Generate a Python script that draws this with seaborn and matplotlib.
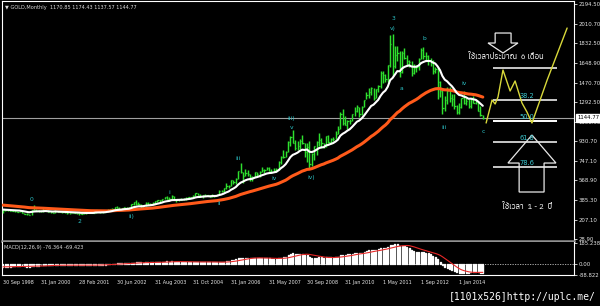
import numpy as np
import pandas as pd
import matplotlib
matplotlib.use("Agg")
import matplotlib.pyplot as plt
from matplotlib import font_manager
from matplotlib.patches import Polygon
import matplotlib.transforms as mtransforms
import seaborn as sns

# ---------------------------------------------------------------- data
# monthly closes before the visible window (used only to warm up the averages)
pre_close = [377, 381, 389, 376, 387, 388, 384, 385, 394, 389, 383, 383,
             375, 376, 392, 389, 385, 387, 383, 382, 384, 382, 387, 387,
             405, 400, 396, 392, 391, 382, 385, 387, 379, 379, 371, 369,
             345, 358, 348, 340, 345, 334, 326, 325, 332, 311, 296, 290,
             304, 297, 301, 310, 293, 296, 288, 273]

# visible monthly bars (one row per date-label interval)
high = [
    301, 301, 300, 296, 292, 292, 290, 291, 290, 268, 264, 259, 299, 339, 305, 292,
    292, 313, 300, 295, 287, 280, 294, 291, 284, 280, 277, 275, 272, 270, 275, 273,
    270, 268, 266, 296, 275, 272, 280, 295, 293, 285, 280, 289, 302, 304, 311, 328,
    330, 322, 317, 327, 324, 327, 349, 372, 390, 370, 352, 341, 373, 371, 364, 366,
    376, 391, 390, 400, 417, 427, 420, 431, 429, 396, 400, 410, 408, 415, 419, 420,
    431, 455, 457, 441, 437, 447, 438, 436, 443, 438, 448, 476, 478, 497, 541, 530,
    573, 574, 587, 654, 730, 644, 677, 664, 631, 609, 649, 648, 654, 690, 673, 692,
    692, 670, 686, 687, 744, 793, 848, 838, 934, 977, 1033, 945, 933, 951, 989, 915,
    913, 933, 825, 882, 935, 1006, 963, 918, 980, 990, 960, 967, 1025, 1070, 1195, 1227,
    1161, 1128, 1136, 1181, 1249, 1265, 1245, 1250, 1311, 1388, 1425, 1432, 1424, 1411, 1448, 1575,
    1577, 1553, 1632, 1912, 1921, 1804, 1803, 1764, 1764, 1791, 1720, 1676, 1668, 1641, 1628, 1693,
    1788, 1796, 1755, 1724, 1695, 1677, 1617, 1615, 1487, 1421, 1348, 1434, 1434, 1361, 1362, 1267,
    1280, 1332, 1392, 1331, 1315, 1332, 1345, 1323, 1287, 1256, 1174.43]
low = [
    273, 288, 288, 284, 284, 282, 278, 278, 266, 256, 252, 251, 253, 294, 288, 278,
    281, 282, 285, 276, 273, 269, 271, 275, 274, 270, 270, 263, 262, 264, 267, 262,
    254, 255, 255, 263, 265, 264, 264, 271, 278, 272, 272, 277, 282, 289, 298, 308,
    313, 297, 302, 310, 310, 313, 318, 345, 345, 340, 319, 320, 336, 342, 340, 345,
    351, 371, 367, 378, 393, 398, 391, 393, 384, 371, 382, 387, 390, 388, 401, 405,
    414, 426, 431, 417, 411, 425, 421, 414, 414, 418, 430, 432, 461, 466, 491, 500,
    515, 538, 538, 580, 636, 543, 606, 612, 561, 560, 600, 607, 604, 648, 635, 661,
    652, 640, 648, 642, 669, 722, 776, 780, 832, 888, 913, 853, 847, 860, 903, 786,
    735, 681, 700, 753, 800, 887, 866, 865, 880, 910, 904, 933, 952, 1000, 1039, 1075,
    1075, 1045, 1088, 1113, 1165, 1200, 1157, 1175, 1241, 1315, 1331, 1360, 1309, 1328, 1381, 1422,
    1462, 1478, 1480, 1610, 1535, 1604, 1671, 1523, 1563, 1689, 1627, 1613, 1527, 1552, 1564, 1589,
    1687, 1692, 1672, 1635, 1626, 1554, 1562, 1321, 1338, 1180, 1208, 1270, 1292, 1251, 1226, 1180,
    1182, 1238, 1277, 1268, 1240, 1240, 1281, 1273, 1206, 1161, 1137.57]
close = [
    294, 292, 294, 288, 287, 288, 280, 286, 268, 261, 255, 254, 299, 300, 291, 290,
    283, 293, 290, 278, 275, 272, 288, 276, 279, 277, 274, 264, 270, 268, 273, 266,
    267, 258, 264, 268, 271, 265, 273, 293, 279, 275, 277, 282, 297, 302, 309, 326,
    318, 305, 312, 324, 317, 319, 347, 368, 348, 350, 334, 336, 361, 346, 354, 360,
    375, 388, 386, 398, 416, 400, 396, 426, 388, 394, 395, 391, 400, 408, 416, 414,
    429, 452, 438, 422, 435, 429, 435, 417, 437, 429, 433, 473, 470, 495, 517, 513,
    569, 556, 583, 654, 643, 613, 633, 624, 599, 604, 646, 632, 650, 665, 663, 679,
    659, 650, 666, 673, 743, 789, 783, 834, 923, 972, 916, 865, 886, 930, 913, 833,
    880, 718, 814, 882, 927, 942, 916, 883, 979, 927, 954, 955, 1001, 1040, 1181, 1097,
    1081, 1117, 1113, 1180, 1213, 1244, 1181, 1247, 1307, 1359, 1386, 1421, 1332, 1410, 1439, 1556,
    1536, 1500, 1628, 1826, 1620, 1722, 1746, 1566, 1740, 1697, 1668, 1664, 1559, 1604, 1614, 1692,
    1772, 1719, 1713, 1675, 1663, 1579, 1597, 1472, 1393, 1234, 1313, 1396, 1327, 1323, 1253, 1202,
    1244, 1326, 1284, 1296, 1250, 1327, 1282, 1287, 1210, 1171, 1144.77]

date_tick_bars = [0, 16, 32, 48, 64, 80, 96, 112, 128, 144, 160, 176, 192]
date_tick_labels = ["30 Sep 1998", "31 Jan 2000", "28 Feb 2001", "30 Jun 2002",
                    "31 Aug 2003", "31 Oct 2004", "31 Jan 2006", "31 May 2007",
                    "30 Sep 2008", "31 Jan 2010", "1 May 2011", "1 Sep 2012",
                    "1 Jan 2014"]
price_ticks = [2194.50, 2010.70, 1832.50, 1648.90, 1470.70, 1292.50, 1106.90,
               930.70, 747.10, 568.90, 385.30, 207.10, 28.90]
last_price = 1144.77
macd_ticks = [185.238, 0.0, -88.822]
macd_tick_labels = ["185.238", "0.00", "-88.822"]

# Elliott-wave labels (bar index, price)
wave_text = ["0", "2", "ii)", "i", "ii", "iii", "iv", "iii)", "v", "iv)",
             "3", "v)", "a", "b", "iii", "iv", "c"]
wave_bar = [11.8, 32.0, 53.9, 69.9, 90.9, 98.9, 114.1, 121.3, 121.3, 129.7,
            164.2, 164.2, 167.6, 177.3, 185.7, 194.1, 202.1]
wave_price = [397, 186, 232, 462, 352, 775, 582, 1135, 1061, 600,
              2065, 1973, 1420, 1872, 1061, 1466, 1015]

# projected path (yellow zig-zag)
proj_bar = [203.4, 205.9, 207.2, 208.4, 210.5, 213.5, 215.6, 218.5, 220.6, 222.7, 229.1, 237.5]
proj_price = [1098, 1310, 1273, 1337, 1586, 1393, 1485, 1282, 1199, 1098, 1494, 1973]

# Fibonacci levels
fib_price = [1604.7, 1309.9, 1116.3, 922.8, 692.5]
fib_name = ["", "38.2", "50.0", "61.8", "78.6"]
fib_start, fib_end = 206.3, 233.3

thai_top = "ใช้เวลาประมาณ  6 เดือน"
thai_bottom = "ใช้เวลา  1 - 2  ปี"
header = "\u25bc GOLD,Monthly  1170.85 1174.43 1137.57 1144.77"
macd_header = "MACD(12,26,9) -76.364 -69.423"
watermark = "[1101x526]http://uplc.me/"

# ---------------------------------------------------------------- fonts
def find_thai_font():
    try:
        from fontTools.ttLib import TTFont
    except Exception:
        return None
    seen = set()
    cands = sorted(font_manager.fontManager.ttflist, key=lambda f: ("CJK" in f.name, f.name))
    for f in cands:
        if f.fname in seen:
            continue
        seen.add(f.fname)
        try:
            tt = TTFont(f.fname, fontNumber=0, lazy=True)
            cmap = tt.getBestCmap() or {}
            tt.close()
            if 0x0E43 in cmap and 0x0E40 in cmap and 0x0E0A in cmap:
                return f.name
        except Exception:
            continue
    return None

sns.set_theme(style="dark")
plt.rcParams.update({
    "figure.facecolor": "black", "axes.facecolor": "black",
    "savefig.facecolor": "black", "text.color": "white",
    "axes.edgecolor": "white", "xtick.color": "white", "ytick.color": "white",
    "axes.grid": False,
})
plt.rcParams["font.family"] = ["DejaVu Sans"]
thai_font = find_thai_font()
thai_family = [thai_font, "DejaVu Sans"] if thai_font else ["DejaVu Sans"]

# ---------------------------------------------------------------- derived series
n_pre = len(pre_close)
full = pd.Series(pre_close + close, dtype=float)
ema_fast = full.ewm(span=12, adjust=False).mean()
ema_slow = full.ewm(span=50, adjust=False).mean()
macd_full = full.ewm(span=12, adjust=False).mean() - full.ewm(span=26, adjust=False).mean()
signal_full = macd_full.rolling(9).mean()

bars = np.arange(len(close))
df = pd.DataFrame({
    "bar": bars, "high": high, "low": low, "close": close,
    "ema12": ema_fast.iloc[n_pre:].values, "ema50": ema_slow.iloc[n_pre:].values,
    "macd": macd_full.iloc[n_pre:].values, "signal": signal_full.iloc[n_pre:].values,
})

# ---------------------------------------------------------------- figure
W, H = 600, 306
fig = plt.figure(figsize=(W / 100, H / 100), dpi=100)
ax = fig.add_axes([2 / W, 65 / H, 572 / W, 240 / H])
axm = fig.add_axes([2 / W, 31 / H, 572 / W, 33 / H], sharex=ax)

green = "#2ee02e"
ax.vlines(df["bar"], df["low"], df["high"], color=green, lw=1.05, zorder=3)
ax.hlines(df["close"], df["bar"], df["bar"] + 0.55, color=green, lw=0.9, zorder=3)

sns.lineplot(data=df, x="bar", y="ema50", ax=ax, color="#ff5a1a", lw=2.2, zorder=4)
sns.lineplot(data=df, x="bar", y="ema12", ax=ax, color="white", lw=1.5, zorder=5)

ax.axhline(last_price, color="#a0a0a0", lw=0.8, zorder=2)

# Fibonacci lines and labels
for p, name in zip(fib_price, fib_name):
    col = "white" if name == "50.0" else "#c8c8c8"
    ax.hlines(p, fib_start, fib_end, color=col, lw=1.4, zorder=4)
    if name:
        ax.text((fib_start + fib_end) / 2 + 0.6, p + 12, name, color="#3cc8d0",
                fontsize=4.8, ha="center", va="bottom", zorder=7)

# projection
sns.lineplot(x=proj_bar, y=proj_price, ax=ax, color="#d8d83a", lw=1.0, sort=False,
             estimator=None, zorder=6)

# arrows
down_arrow = [(207.2, 1927), (213.9, 1927), (213.9, 1835), (216.8, 1835),
              (210.5, 1743), (204.2, 1835), (207.2, 1835)]
up_arrow = [(222.7, 987), (232.8, 729), (227.8, 729), (227.8, 462),
            (217.3, 462), (217.3, 729), (212.6, 729)]
for pts in (down_arrow, up_arrow):
    ax.add_patch(Polygon(pts, closed=True, fill=False, ec="#e8e8e8", lw=0.9, zorder=5))

# Thai notes
ax.text(211.6, 1706, thai_top, family=thai_family, fontsize=5.7, fontweight="bold",
        color="white", ha="center", va="center", zorder=8)
ax.text(220.8, 324, thai_bottom, family=thai_family, fontsize=5.7, fontweight="bold",
        color="white", ha="center", va="center", zorder=8)

# wave labels
for t, b, p in zip(wave_text, wave_bar, wave_price):
    ax.text(b, p, t, color="#2cc4c8", fontsize=4.3, ha="center", va="center", zorder=8)

ax.set_xlim(-0.42, 240.4)
ax.set_ylim(10.5, 2222.1)
ax.yaxis.tick_right()
ax.set_yticks(price_ticks)
ax.set_yticklabels([f"{v:.2f}" for v in price_ticks])
ax.tick_params(axis="y", length=2, width=0.6, pad=1.2, labelsize=3.9, colors="#e6e6e6")
ax.tick_params(axis="x", bottom=False, labelbottom=False)
ax.set_xlabel("")
ax.set_ylabel("")
for side in ("top", "left", "right"):
    ax.spines[side].set_color("white")
    ax.spines[side].set_linewidth(0.8)
ax.spines["bottom"].set_color("#909090")
ax.spines["bottom"].set_linewidth(1.8)

tr = mtransforms.blended_transform_factory(ax.transAxes, ax.transData)
ax.text(1.006, last_price, f"{last_price:.2f}", transform=tr, fontsize=3.9, color="black",
        va="center", ha="left", clip_on=False, zorder=10,
        bbox=dict(boxstyle="square,pad=0.25", fc="white", ec="white"))

# MACD panel
axm.axhline(0, color="#c0c0c0", lw=0.6, ls=(0, (1.5, 1.5)), zorder=1)
axm.bar(df["bar"], df["macd"], width=0.42, color="#bdbdbd", zorder=2)
sns.lineplot(data=df, x="bar", y="signal", ax=axm, color="#e82828", lw=0.8, zorder=3)
axm.set_ylim(-92, 195)
axm.yaxis.tick_right()
axm.set_yticks(macd_ticks)
axm.set_yticklabels(macd_tick_labels)
axm.tick_params(axis="y", length=2, width=0.6, pad=1.2, labelsize=3.9, colors="#e6e6e6")
axm.set_xticks(date_tick_bars)
axm.set_xticklabels(date_tick_labels)
for lab in axm.get_xticklabels():
    lab.set_ha("left")
axm.tick_params(axis="x", length=2.2, width=0.6, pad=1.5, labelsize=3.5, colors="#e6e6e6")
axm.set_xlabel("")
axm.set_ylabel("")
axm.spines["top"].set_visible(False)
for side in ("left", "right", "bottom"):
    axm.spines[side].set_color("white")
    axm.spines[side].set_linewidth(0.8)

fig.text(5 / W, 1 - 7 / H, header, fontsize=3.6, color="#dcdcdc", va="center", ha="left")
fig.text(4 / W, 1 - 247 / H, macd_header, fontsize=3.6, color="#dcdcdc", va="center", ha="left")
fig.text(596 / W, 1 - 297 / H, watermark, fontsize=7.0, family=["DejaVu Sans Mono"],
         color="white", va="center", ha="right")

fig.savefig("out.png", dpi=100, facecolor="black")
